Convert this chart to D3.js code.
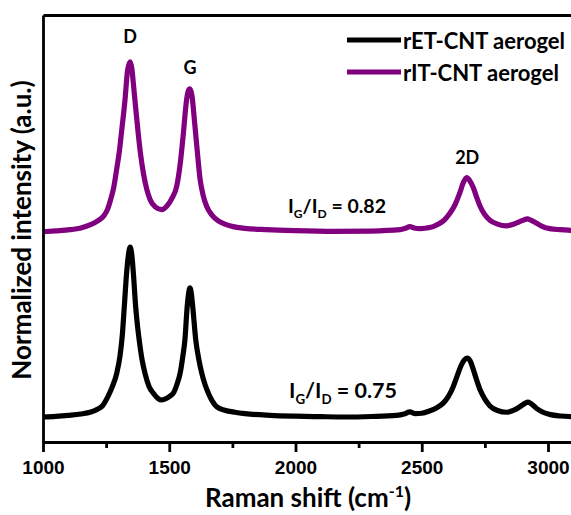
<!DOCTYPE html>
<html>
<head>
<meta charset="utf-8">
<script src="https://cdn.jsdelivr.net/npm/d3@7/dist/d3.min.js"></script>
<style>
  html, body { margin: 0; padding: 0; background: #fff; }
  svg { display: block; font-family: Lato, "Open Sans", "DejaVu Sans", sans-serif; font-weight: bold; }
</style>
</head>
<body>
<svg id="chart" width="571" height="515"></svg>
<script>
// Raman spectra, intensities normalized to the D band
const shiftET = [1000,1050,1100,1150,1190,1215,1235,1257,1275,1292,1305,1314,1322,1331,1338,1345,1352,1358,1367,1374,1381,1392,1404,1420,1437,1455,1470,1490,1505,1516,1530,1543,1554,1562,1571,1577,1582,1587,1593,1605,1617,1629,1642,1655,1670,1688,1720,1760,1800,1900,2000,2100,2200,2300,2400,2430,2453,2475,2500,2530,2560,2585,2605,2625,2640,2655,2668,2680,2692,2704,2718,2731,2750,2770,2800,2836,2865,2890,2910,2920,2932,2955,2980,3010,3050,3100];
const intET = [0.000,0.004,0.010,0.018,0.030,0.045,0.065,0.120,0.180,0.257,0.360,0.480,0.649,0.845,0.950,1.000,0.950,0.845,0.649,0.540,0.453,0.340,0.257,0.180,0.140,0.110,0.100,0.110,0.125,0.140,0.190,0.257,0.360,0.453,0.649,0.730,0.760,0.730,0.649,0.453,0.340,0.257,0.190,0.140,0.095,0.060,0.040,0.028,0.020,0.010,0.005,0.002,0.000,0.003,0.010,0.018,0.030,0.020,0.022,0.035,0.055,0.082,0.120,0.180,0.240,0.300,0.335,0.347,0.330,0.280,0.215,0.160,0.105,0.065,0.038,0.028,0.040,0.062,0.082,0.088,0.080,0.050,0.028,0.014,0.006,0.002];

const shiftIT = [1000,1050,1107,1150,1186,1215,1239,1255,1268,1280,1292,1303,1312,1325,1335,1345,1352,1358,1367,1377,1387,1397,1410,1424,1445,1470,1490,1510,1530,1545,1556,1569,1576,1582,1590,1600,1610,1622,1635,1648,1668,1688,1720,1753,1800,1886,2000,2150,2300,2414,2435,2453,2470,2493,2520,2545,2570,2590,2612,2632,2651,2665,2678,2690,2704,2718,2731,2750,2770,2800,2836,2865,2889,2905,2918,2932,2955,2975,2995,3047,3100];
const intIT = [0.000,0.005,0.012,0.022,0.040,0.062,0.090,0.130,0.190,0.260,0.370,0.480,0.600,0.780,0.950,1.000,0.960,0.870,0.730,0.580,0.450,0.350,0.255,0.190,0.145,0.130,0.150,0.195,0.270,0.420,0.580,0.780,0.830,0.840,0.800,0.650,0.490,0.310,0.210,0.150,0.100,0.070,0.045,0.030,0.020,0.012,0.006,0.002,0.004,0.012,0.020,0.030,0.022,0.018,0.022,0.030,0.048,0.070,0.110,0.160,0.230,0.290,0.318,0.300,0.260,0.200,0.150,0.100,0.068,0.045,0.035,0.045,0.060,0.070,0.076,0.068,0.050,0.033,0.022,0.012,0.008];

// vertical offset that stacks the rIT spectrum above the rET spectrum
const stackOffset = [0, 1.09];
const seriesNames = ["rET-CNT aerogel", "rIT-CNT aerogel"];
const seriesColors = ["#000000", "#800080"];

const majorTicks = [1000, 1500, 2000, 2500, 3000];
const minorTicks = [1250, 1750, 2250, 2750];

const peakNames = ["D", "G", "2D"];
const peakShift = [1345, 1582, 2680];
const ratioValues = ["0.75", "0.82"];

const svg = d3.select("#chart");
const W = 571, H = 515;
const mLeft = 43, mTop = 15, mBottom = 442;

const x = d3.scaleLinear().domain([1000, 3100]).range([mLeft, mLeft + 0.2525 * 2100]);
const y = d3.scaleLinear().domain([-0.147, 2.365]).range([mBottom, mTop]);

svg.append("defs").append("clipPath").attr("id", "plotclip")
  .append("rect").attr("x", mLeft - 4).attr("y", mTop).attr("width", W - mLeft + 4).attr("height", mBottom - mTop);

const series = [
  { pts: shiftET.map((s, i) => [s, intET[i] + stackOffset[0]]) },
  { pts: shiftIT.map((s, i) => [s, intIT[i] + stackOffset[1]]) }
];

const line = d3.line().x(d => x(d[0])).y(d => y(d[1])).curve(d3.curveMonotoneX);

const plot = svg.append("g").attr("clip-path", "url(#plotclip)");
series.forEach((s, i) => {
  plot.append("path")
    .attr("d", line(s.pts))
    .attr("fill", "none")
    .attr("stroke", seriesColors[i])
    .attr("stroke-width", 5.2)
    .attr("stroke-linejoin", "round")
    .attr("stroke-linecap", "butt");
});

// axes
const axisStroke = 2.8;
const xMajor = svg.append("g").attr("transform", `translate(0,${mBottom})`)
  .call(d3.axisBottom(x).tickValues(majorTicks).tickSize(10).tickSizeOuter(0).tickPadding(9).tickFormat(d3.format("d")));
const xMinor = svg.append("g").attr("transform", `translate(0,${mBottom})`)
  .call(d3.axisBottom(x).tickValues(minorTicks).tickSize(6).tickSizeOuter(0).tickFormat(""));
[xMajor, xMinor].forEach(g => {
  g.selectAll("path, line").attr("stroke", "#000").attr("stroke-width", axisStroke);
});
xMajor.selectAll("text").attr("fill", "#000").style("font-size", "19px").style("font-weight", "bold");

const yAxis = svg.append("g").attr("transform", `translate(${mLeft},0)`)
  .call(d3.axisLeft(y).tickValues([]).tickSizeOuter(0));
yAxis.select("path").attr("stroke", "#000").attr("stroke-width", axisStroke);

const topAxis = svg.append("g").attr("transform", `translate(0,${mTop})`)
  .call(d3.axisTop(x).tickValues([]).tickSizeOuter(0));
topAxis.select("path").attr("stroke", "#000").attr("stroke-width", axisStroke);

// axis titles
const xt = svg.append("text").attr("x", 308).attr("y", 507).attr("text-anchor", "middle")
  .style("font-size", "26px");
xt.append("tspan").text("Raman shift (cm");
xt.append("tspan").text("-1").attr("dy", -10).style("font-size", "16px");
xt.append("tspan").text(")").attr("dy", 10);

svg.append("text").attr("transform", "translate(21,230) rotate(-90)")
  .attr("text-anchor", "middle").attr("dominant-baseline", "central")
  .style("font-size", "26px").text("Normalized intensity (a.u.)");

// peak labels
const peakLabelY = [1.09 + 1.0 + 0.11, 1.09 + 0.84 + 0.09, 1.09 + 0.318 + 0.08];
peakNames.forEach((p, i) => {
  svg.append("text").attr("x", x(peakShift[i])).attr("y", y(peakLabelY[i]))
    .attr("text-anchor", "middle").style("font-size", "18px").text(p);
});

// intensity ratio annotations
function ratioLabel(xp, yp, val, size) {
  const t = svg.append("text").attr("x", xp).attr("y", yp).style("font-size", size + "px");
  t.append("tspan").text("I");
  t.append("tspan").text("G").attr("dy", size * 0.28).style("font-size", (size * 0.62) + "px");
  t.append("tspan").text("/I").attr("dy", -size * 0.28);
  t.append("tspan").text("D").attr("dy", size * 0.28).style("font-size", (size * 0.62) + "px");
  t.append("tspan").text(" = " + val).attr("dy", -size * 0.28);
}
ratioLabel(289, 398, ratioValues[0], 21.5);
ratioLabel(288, 213, ratioValues[1], 19.5);

// legend
const legend = svg.append("g");
seriesNames.forEach((n, i) => {
  const ly = 40 + i * 32;
  legend.append("line").attr("x1", 347).attr("x2", 401).attr("y1", ly).attr("y2", ly)
    .attr("stroke", seriesColors[i]).attr("stroke-width", 5);
  legend.append("text").attr("x", 403).attr("y", ly).attr("dominant-baseline", "central")
    .style("font-size", "22px").text(n);
});
</script>
</body>
</html>
